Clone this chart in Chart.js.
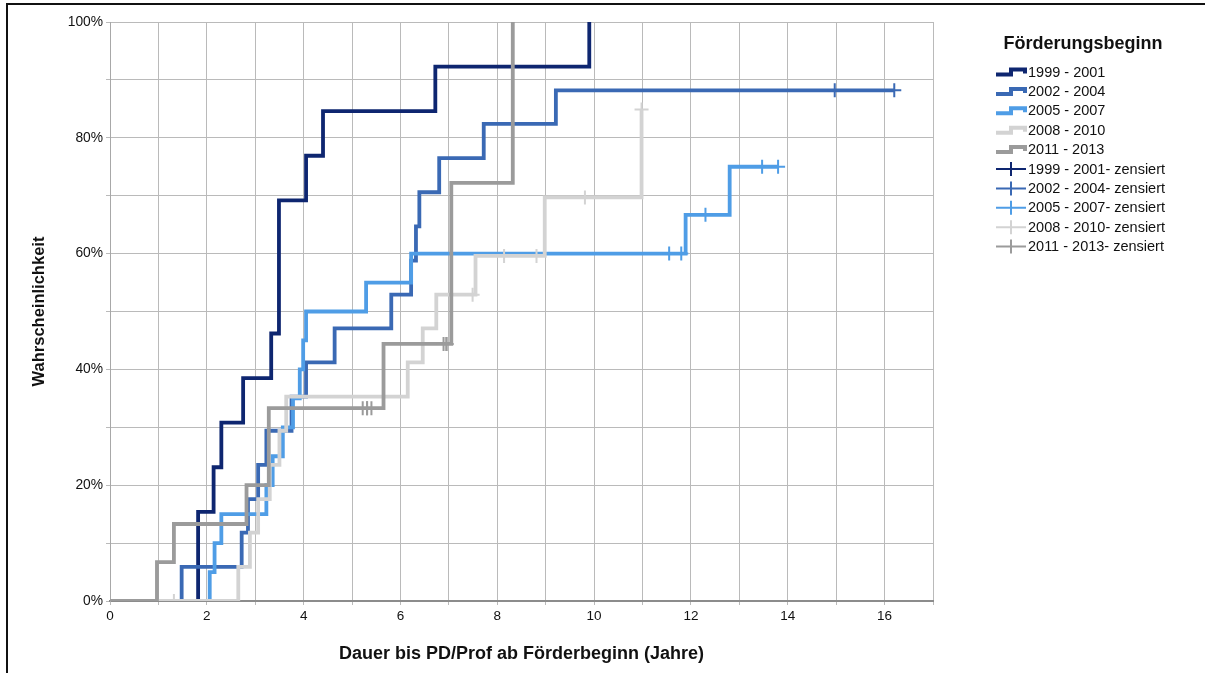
<!DOCTYPE html>
<html lang="de">
<head>
<meta charset="utf-8">
<title>Förderungsbeginn – Dauer bis PD/Prof</title>
<script src="https://cdn.jsdelivr.net/npm/chart.js@4.4.1/dist/chart.umd.min.js"></script>
<style>
  html, body { margin: 0; padding: 0; background: #ffffff; }
  #wrap { position: relative; width: 1205px; height: 673px; overflow: hidden; }
  #frame { position: absolute; left: 6px; top: 3px; width: 1300px; height: 800px;
           border-left: 2px solid #111; border-top: 2px solid #111; pointer-events: none; }
  canvas { position: absolute; left: 0; top: 0; }
</style>
</head>
<body>
<div id="wrap">
  <canvas id="km" width="1205" height="673"></canvas>
  <div id="frame"></div>
</div>
<script>
// Kaplan-Meier curves: cumulative probability (%) of reaching PD/Prof by years since start of funding
const groupNames = ['1999 - 2001', '2002 - 2004', '2005 - 2007', '2008 - 2010', '2011 - 2013'];

// step curves: time of each event (years) and cumulative probability after it (%)
const years1999 = [0, 1.82, 2.14, 2.30, 2.75, 3.33, 3.49, 4.05, 4.40, 6.72, 9.90];
const prob1999  = [0, 15.4, 23.1, 30.8, 38.5, 46.2, 69.2, 76.9, 84.6, 92.3, 100];

const years2002 = [0, 1.48, 2.72, 2.85, 3.06, 3.23, 3.75, 4.05, 4.64, 5.81, 6.22, 6.32, 6.39, 6.80, 7.72, 9.21, 16.20];
const prob2002  = [0, 5.9, 11.8, 17.6, 23.5, 29.4, 35.3, 41.2, 47.1, 52.9, 58.8, 64.7, 70.6, 76.5, 82.4, 88.2, 88.2];

const years2005 = [0, 2.06, 2.16, 2.30, 3.23, 3.36, 3.57, 3.78, 3.92, 3.99, 4.05, 5.29, 6.22, 11.89, 12.80, 13.80];
const prob2005  = [0, 5, 10, 15, 20, 25, 30, 35, 40, 45, 50, 55, 60, 66.7, 75, 75];

const years2008 = [0, 2.65, 2.89, 3.06, 3.30, 3.50, 3.64, 6.15, 6.46, 6.74, 7.55, 8.98, 10.98];
const prob2008  = [0, 5.9, 11.8, 17.6, 23.5, 29.4, 35.3, 41.2, 47.1, 52.9, 59.6, 69.7, 84.9];

const years2011 = [0, 0.97, 1.32, 2.82, 3.28, 5.65, 7.05, 8.32];
const prob2011  = [0, 6.7, 13.3, 20.0, 33.3, 44.4, 72.2, 100];

// censored observations (time, curve level)
const censYears1999 = [];
const censProb1999  = [];
const censYears2002 = [14.97, 16.20];
const censProb2002  = [88.2, 88.2];
const censYears2005 = [11.55, 11.80, 12.30, 13.47, 13.80];
const censProb2005  = [60, 60, 66.7, 75, 75];
const censYears2008 = [1.32, 7.49, 8.14, 8.81, 9.81, 10.98];
const censProb2008  = [0, 52.9, 59.6, 59.6, 69.7, 84.9];
const censYears2011 = [5.22, 5.31, 5.31, 5.40, 6.89, 6.95, 6.95];
const censProb2011  = [33.3, 33.3, 33.3, 33.3, 44.4, 44.4, 44.4];

// axis tick labels
const xTickLabels = [0, 2, 4, 6, 8, 10, 12, 14, 16];
const yTickLabels = [0, 20, 40, 60, 80, 100];

const groupColors = ['#0e2670', '#3a69b4', '#4f9de6', '#d3d3d3', '#9b9b9b'];

const curveYears = [years1999, years2002, years2005, years2008, years2011];
const curveProb  = [prob1999, prob2002, prob2005, prob2008, prob2011];
const censYears  = [censYears1999, censYears2002, censYears2005, censYears2008, censYears2011];
const censProb   = [censProb1999, censProb2002, censProb2005, censProb2008, censProb2011];

const toPoints = (xs, ys) => xs.map((x, i) => ({ x: x, y: ys[i] }));

const datasets = [];
groupNames.forEach((name, g) => {
  datasets.push({
    label: name,
    data: toPoints(curveYears[g], curveProb[g]),
    stepped: true,
    borderColor: groupColors[g],
    backgroundColor: groupColors[g],
    borderWidth: 3.8,
    pointRadius: 0,
    pointHoverRadius: 0,
    fill: false,
    order: 10 - g
  });
});
groupNames.forEach((name, g) => {
  datasets.push({
    label: name + '- zensiert',
    data: toPoints(censYears[g], censProb[g]),
    showLine: false,
    pointStyle: 'cross',
    pointRadius: 7,
    pointBorderWidth: 2,
    borderColor: groupColors[g],
    backgroundColor: groupColors[g],
    clip: 0,
    order: 0
  });
});

const fontFamily = '"Liberation Sans", Arial, Helvetica, sans-serif';
const gridColor = '#bababa';

// legend block on the right with step and cross symbols
const sideLegend = {
  id: 'sideLegend',
  afterDraw(chart) {
    const ctx = chart.ctx;
    ctx.save();
    ctx.fillStyle = '#111';
    ctx.textBaseline = 'middle';
    ctx.font = 'bold 18px ' + fontFamily;
    ctx.textAlign = 'center';
    ctx.fillText('Förderungsbeginn', 1083, 44);

    ctx.font = '14.5px ' + fontFamily;
    ctx.textAlign = 'left';
    const x0 = 996, x1 = 1011, x2 = 1025;
    chart.data.datasets.forEach((ds, i) => {
      const y = 72 + i * 19.4;
      ctx.strokeStyle = ds.borderColor;
      if (ds.stepped) {
        ctx.lineWidth = 4;
        ctx.lineJoin = 'miter';
        ctx.beginPath();
        ctx.moveTo(x0, y + 2.5);
        ctx.lineTo(x1, y + 2.5);
        ctx.lineTo(x1, y - 2.5);
        ctx.lineTo(x2, y - 2.5);
        ctx.lineTo(x2, y + 1.5);
        ctx.stroke();
      } else {
        ctx.lineWidth = 2;
        ctx.beginPath();
        ctx.moveTo(x0, y);
        ctx.lineTo(x2 + 1, y);
        ctx.moveTo(x1, y - 7);
        ctx.lineTo(x1, y + 7);
        ctx.stroke();
      }
      ctx.fillStyle = '#111';
      ctx.fillText(ds.label, 1028, y + 0.5);
    });
    ctx.restore();
  }
};

new Chart(document.getElementById('km'), {
  type: 'line',
  data: { datasets: datasets },
  plugins: [sideLegend],
  options: {
    responsive: false,
    animation: false,
    events: [],
    layout: { padding: { left: 26, right: 272, top: 22, bottom: 4 } },
    plugins: {
      legend: { display: false },
      tooltip: { enabled: false }
    },
    scales: {
      x: {
        type: 'linear',
        min: 0,
        max: 17,
        afterFit(scale) { scale.height = 68; },
        ticks: {
          stepSize: 1,
          autoSkip: false,
          maxRotation: 0,
          padding: 3,
          color: '#111',
          font: { family: fontFamily, size: 13.5 },
          callback: v => (xTickLabels.includes(v) ? String(v) : '')
        },
        grid: { color: gridColor, lineWidth: 1, tickLength: 4, drawTicks: true },
        border: { color: '#8c8c8c', width: 2 },
        title: {
          display: true,
          text: 'Dauer bis PD/Prof ab Förderbeginn (Jahre)',
          color: '#111',
          font: { family: fontFamily, size: 18, weight: 'bold' },
          padding: { top: 4, bottom: 4 }
        }
      },
      y: {
        type: 'linear',
        min: 0,
        max: 100,
        afterFit(scale) { scale.width = 84; },
        ticks: {
          stepSize: 10,
          autoSkip: false,
          padding: 3,
          color: '#111',
          font: { family: fontFamily, size: 13.8 },
          callback: v => (yTickLabels.includes(v) ? v + '%' : '')
        },
        grid: { color: gridColor, lineWidth: 1, tickLength: 4 },
        border: { color: '#a8a8a8', width: 1 },
        title: {
          display: true,
          text: 'Wahrscheinlichkeit',
          color: '#111',
          font: { family: fontFamily, size: 16.5, weight: 'bold' },
          padding: { top: 4, bottom: 4 }
        }
      }
    }
  }
});
</script>
</body>
</html>
